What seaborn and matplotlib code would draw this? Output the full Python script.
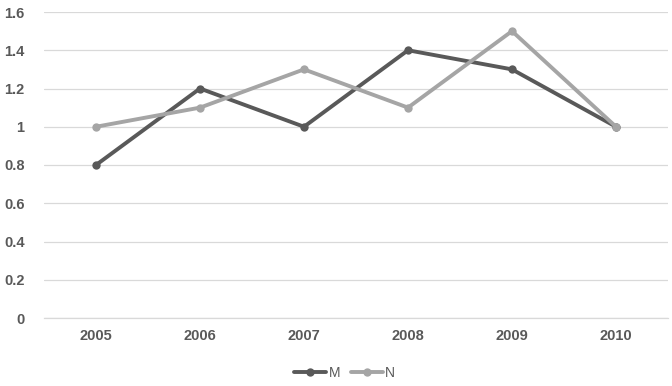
import matplotlib
matplotlib.use("Agg")
import matplotlib.pyplot as plt
import seaborn as sns
import pandas as pd

years = ["2005", "2006", "2007", "2008", "2009", "2010"]
m_values = [0.8, 1.2, 1.0, 1.4, 1.3, 1.0]
n_values = [1.0, 1.1, 1.3, 1.1, 1.5, 1.0]
series_names = ["M", "N"]
y_ticks = [0, 0.2, 0.4, 0.6, 0.8, 1, 1.2, 1.4, 1.6]
y_labels = ["0", "0.2", "0.4", "0.6", "0.8", "1", "1.2", "1.4", "1.6"]

df = pd.DataFrame({
    "year": years * 2,
    "value": m_values + n_values,
    "series": [series_names[0]] * len(years) + [series_names[1]] * len(years),
})

sns.set_theme(style="white")
plt.rcParams["font.family"] = ["Liberation Sans", "DejaVu Sans"]

fig = plt.figure(figsize=(6.72, 3.86), dpi=100)
ax = fig.add_axes([44 / 672, 1 - 318 / 386, 624 / 672, 306 / 386])

palette = {"M": "#595959", "N": "#A5A5A5"}
sns.lineplot(data=df, x="year", y="value", hue="series", palette=palette,
             marker="o", markersize=6, markeredgewidth=0, linewidth=2.8,
             sort=False, ax=ax)

ax.set_xlim(-0.5, 5.5)
ax.set_ylim(0, 1.6)
ax.set_yticks(y_ticks)
ax.set_yticklabels(y_labels)
ax.yaxis.grid(True, color="#D9D9D9", linewidth=0.9)
ax.set_axisbelow(True)
for s in ax.spines.values():
    s.set_visible(False)
ax.spines["bottom"].set_visible(True)
ax.spines["bottom"].set_color("#D9D9D9")
ax.spines["bottom"].set_linewidth(0.9)
ax.tick_params(axis="both", length=0, labelsize=10.5, labelcolor="#595959")
ax.tick_params(axis="y", pad=14)
ax.tick_params(axis="x", pad=8)
for lbl in ax.get_xticklabels() + ax.get_yticklabels():
    lbl.set_fontweight("bold")
ax.set_xlabel("")
ax.set_ylabel("")

leg = ax.legend(loc="center", bbox_to_anchor=(0.482, -0.18), ncol=2, frameon=False,
                fontsize=10, handlelength=2.3, columnspacing=0.8, handletextpad=0.15,
                labelcolor="#595959")

fig.savefig("out.png", dpi=100)
